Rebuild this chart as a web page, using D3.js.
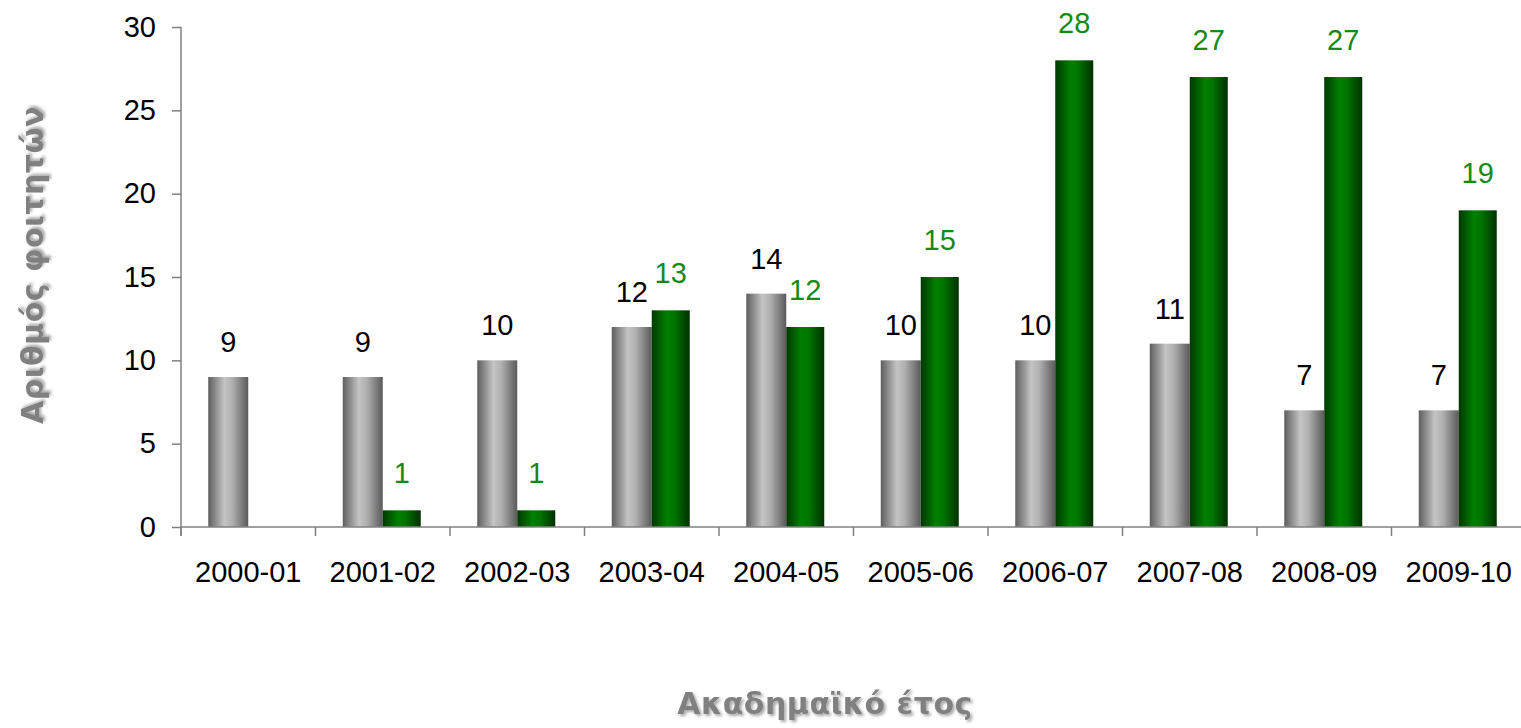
<!DOCTYPE html>
<html lang="el">
<head>
<meta charset="UTF-8">
<title>Αριθμός φοιτητών ανά ακαδημαϊκό έτος</title>
<script src="https://d3js.org/d3.v7.min.js"></script>
<style>
  body { margin: 0; background: #fff; }
  text { font-family: "Liberation Sans", Arial, sans-serif; }
  .tick text { font-size: 29px; fill: #000; }
  .axis path, .axis line { stroke: #808080; stroke-width: 1.5px; }
  .title { font-family: "DejaVu Sans", Verdana, sans-serif; font-size: 30px; font-weight: bold; fill: #808080; letter-spacing: 0.5px; }
  .lbl { font-size: 29px; }
</style>
</head>
<body>
<svg id="chart" width="1521" height="728"></svg>
<script>
const years = ["2000-01", "2001-02", "2002-03", "2003-04", "2004-05",
               "2005-06", "2006-07", "2007-08", "2008-09", "2009-10"];
const grayValues  = [9, 9, 10, 12, 14, 10, 10, 11, 7, 7];
const greenValues = [0, 1, 1, 13, 12, 15, 28, 27, 27, 19];
const yTicks = [0, 5, 10, 15, 20, 25, 30];

const svg = d3.select("#chart");
const margin = {left: 181, top: 27};
const plotW = 1345, plotH = 500;

const defs = svg.append("defs");
function hGradient(id, stops) {
  const g = defs.append("linearGradient").attr("id", id)
    .attr("x1", "0%").attr("x2", "100%").attr("y1", "0%").attr("y2", "0%");
  stops.forEach(s => g.append("stop").attr("offset", s[0]).attr("stop-color", s[1]));
}
hGradient("gGray", [["0%", "#5e5e5e"], ["40%", "#c4c4c4"], ["60%", "#b0b0b0"], ["100%", "#5a5a5a"]]);
hGradient("gGreen", [["0%", "#003800"], ["40%", "#008000"], ["60%", "#007400"], ["100%", "#003000"]]);

const shadow = defs.append("filter").attr("id", "shadow")
  .attr("x", "-10%").attr("y", "-20%").attr("width", "130%").attr("height", "160%");
shadow.append("feDropShadow").attr("dx", 2).attr("dy", 2).attr("stdDeviation", 1.5)
  .attr("flood-color", "#000").attr("flood-opacity", 0.35);

const g = svg.append("g").attr("transform", `translate(${margin.left},${margin.top})`);

const x = d3.scaleBand().domain(years).range([0, plotW]);
const barW = 40;
const y = d3.scaleLinear().domain([0, 30]).range([plotH, 0]);

// y axis
const yAxis = g.append("g").attr("class", "axis")
  .call(d3.axisLeft(y).tickValues(yTicks).tickSize(9).tickPadding(16).tickSizeOuter(0));
yAxis.select(".domain").remove();
yAxis.append("line").attr("x1", 0).attr("x2", 0).attr("y1", 0).attr("y2", plotH + 9);

// bars
const data = years.map((yr, i) => ({yr, a: grayValues[i], b: greenValues[i]}));
const grp = g.append("g").selectAll("g").data(data).join("g")
  .attr("transform", d => `translate(${x(d.yr) + x.bandwidth() / 2},0)`);

grp.append("rect")
  .attr("x", -barW).attr("width", barW)
  .attr("y", d => y(d.a)).attr("height", d => y(0) - y(d.a))
  .attr("fill", "url(#gGray)");
grp.filter(d => d.b > 0).append("rect")
  .attr("x", 0).attr("width", barW - 2)
  .attr("y", d => y(d.b)).attr("height", d => y(0) - y(d.b))
  .attr("fill", "url(#gGreen)");

grp.append("text").attr("class", "lbl")
  .attr("x", -barW / 2).attr("y", d => y(d.a) - 25)
  .attr("text-anchor", "middle").attr("fill", "#000")
  .text(d => d.a);
grp.filter(d => d.b > 0).append("text").attr("class", "lbl")
  .attr("x", barW / 2 - 1).attr("y", d => y(d.b) - 27)
  .attr("text-anchor", "middle").attr("fill", "#168a16")
  .text(d => d.b);

// x axis
const xAxis = g.append("g").attr("class", "axis")
  .attr("transform", `translate(0,${plotH})`)
  .call(d3.axisBottom(x).tickSize(0).tickPadding(34));
xAxis.select(".domain").attr("d", `M0,0H${plotW}`);
xAxis.selectAll(".bound").data(years).join("line").attr("class", "bound")
  .attr("x1", d => x(d)).attr("x2", d => x(d)).attr("y1", 0).attr("y2", 9);

// titles
svg.append("text").attr("class", "title").attr("filter", "url(#shadow)")
  .attr("transform", "translate(43,265) rotate(-90)")
  .attr("text-anchor", "middle").text("Αριθμός φοιτητών");
svg.append("text").attr("class", "title").attr("filter", "url(#shadow)")
  .attr("x", 825).attr("y", 714)
  .attr("text-anchor", "middle").text("Ακαδημαϊκό έτος");
</script>
</body>
</html>
